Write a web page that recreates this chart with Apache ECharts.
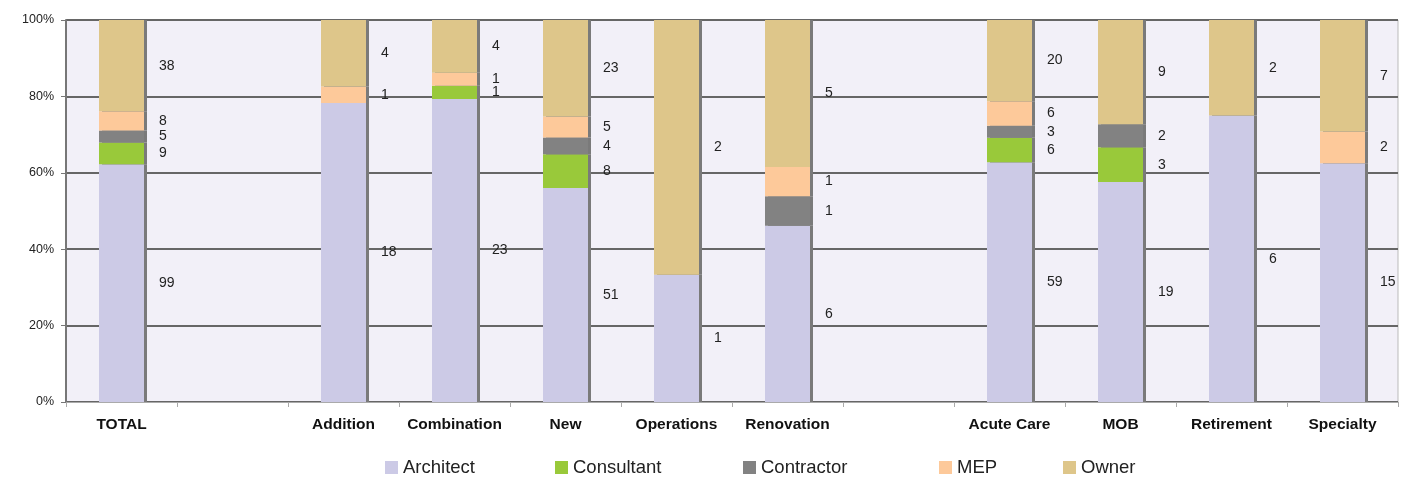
<!DOCTYPE html>
<html>
<head>
<meta charset="utf-8">
<script src="https://cdn.jsdelivr.net/npm/echarts@6/dist/echarts.min.js"></script>
<style>
html,body{margin:0;padding:0;background:#fff;}
#chart{width:1407px;height:478px;}
</style>
</head>
<body>
<div id="chart"></div>
<script>
const categories = ['TOTAL', '', 'Addition', 'Combination', 'New', 'Operations', 'Renovation', '', 'Acute Care', 'MOB', 'Retirement', 'Specialty'];
const architect  = [99, null, 18, 23, 51, 1, 6, null, 59, 19, 6, 15];
const consultant = [9,  null, 0,  1,  8,  0, 0, null, 6,  3,  0, 0];
const contractor = [5,  null, 0,  0,  4,  0, 1, null, 3,  2,  0, 0];
const mep        = [8,  null, 1,  1,  5,  0, 1, null, 6,  0,  0, 2];
const owner      = [38, null, 4,  4,  23, 2, 5, null, 20, 9,  2, 7];
const yTicks = ['0%', '20%', '40%', '60%', '80%', '100%'];

const seriesDefs = [
  {name: 'Architect', data: architect, color: '#cccae6'},
  {name: 'Consultant', data: consultant, color: '#99c93a'},
  {name: 'Contractor', data: contractor, color: '#828282'},
  {name: 'MEP', data: mep, color: '#fdc99a'},
  {name: 'Owner', data: owner, color: '#dec68a'}
];
const legendLeft = [385, 555, 743, 939, 1063];

const totals = categories.map((c, i) => seriesDefs.reduce((s, d) => s + (d.data[i] || 0), 0));

const FONT = 'Liberation Sans, Arial, sans-serif';
const chart = echarts.init(document.getElementById('chart'));
chart.setOption({
  animation: false,
  textStyle: {fontFamily: FONT},
  grid: {left: 66, right: 9, top: 20, bottom: 76, show: true, backgroundColor: '#f2f0f8', borderColor: '#bbbbbb', borderWidth: 1},
  legend: seriesDefs.map((d, i) => ({
    top: 458, left: legendLeft[i], padding: 0, itemWidth: 13, itemHeight: 13,
    icon: 'rect',
    textStyle: {fontSize: 18.5, color: '#222', fontFamily: FONT},
    data: [d.name]
  })),
  xAxis: {
    type: 'category', data: categories,
    axisLine: {lineStyle: {color: '#aaaaaa', width: 1}},
    axisTick: {show: true, length: 5, lineStyle: {color: '#aaaaaa'}},
    axisLabel: {fontWeight: 'bold', fontSize: 15.5, color: '#111', margin: 15, interval: 0}
  },
  yAxis: {
    type: 'value', min: 0, max: 100, interval: 20,
    axisLine: {show: true, lineStyle: {color: '#777', width: 2}},
    axisTick: {show: true, length: 5, lineStyle: {color: '#777'}},
    axisLabel: {fontSize: 12.5, color: '#222', margin: 12, formatter: (v) => yTicks[Math.round(v / 20)]},
    splitLine: {lineStyle: {color: '#666', width: 2}}
  },
  series: seriesDefs.map(d => ({
    name: d.name, type: 'bar', stack: 'all', barWidth: 45,
    data: d.data.map((v, i) => v == null ? null : {value: totals[i] ? v / totals[i] * 100 : 0, raw: v}),
    itemStyle: {color: d.color, shadowColor: '#7a7a7a', shadowOffsetX: 3, shadowOffsetY: 0, shadowBlur: 0},
    label: {
      show: true, position: 'right', distance: 15, fontSize: 14, color: '#222',
      formatter: (p) => (p.data && p.data.raw) ? String(p.data.raw) : ''
    }
  }))
});
</script>
</body>
</html>
